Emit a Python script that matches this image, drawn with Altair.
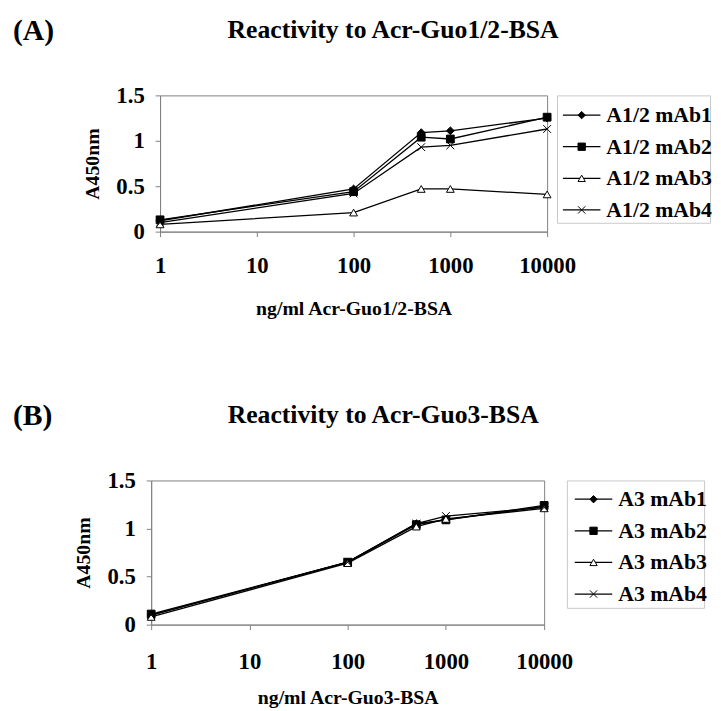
import altair as alt
import pandas as pd

FONT = "Liberation Serif"

# concentrations (ng/ml)
conc = [1, 100, 500, 1000, 10000]
x_ticks = [1, 10, 100, 1000, 10000]
y_ticks = [0, 0.5, 1, 1.5]

# Panel A
series_a = ["A1/2 mAb1", "A1/2 mAb2", "A1/2 mAb3", "A1/2 mAb4"]
a_mab1 = [0.12, 0.47, 1.09, 1.11, 1.25]
a_mab2 = [0.13, 0.44, 1.04, 1.02, 1.26]
a_mab3 = [0.08, 0.21, 0.47, 0.47, 0.41]
a_mab4 = [0.10, 0.42, 0.93, 0.95, 1.13]

# Panel B
series_b = ["A3 mAb1", "A3 mAb2", "A3 mAb3", "A3 mAb4"]
b_mab1 = [0.10, 0.65, 1.05, 1.09, 1.23]
b_mab2 = [0.11, 0.65, 1.04, 1.09, 1.24]
b_mab3 = [0.08, 0.64, 1.02, 1.10, 1.21]
b_mab4 = [0.10, 0.65, 1.05, 1.13, 1.22]

titles = ["Reactivity to Acr-Guo1/2-BSA", "Reactivity to Acr-Guo3-BSA"]
letters = ["(A)", "(B)"]
x_titles = ["ng/ml Acr-Guo1/2-BSA", "ng/ml Acr-Guo3-BSA"]

shapes = ["diamond", "square", "triangle-up", "M-1,-1L1,1M-1,1L1,-1"]
fills = ["black", "black", "white", "black"]


def long_df(series, values):
    rows = []
    for s, vals in zip(series, values):
        for c, v in zip(conc, vals):
            rows.append({"series": s, "conc": c, "A450": v})
    return pd.DataFrame(rows)


def panel(df, series, title, letter, xtitle, w, h, letter_x, title_x,
          leg_w, leg_h, leg_x0, leg_rows, gap, xlab_pad, xtitle_pad, lead):
    shape_scale = alt.Scale(domain=series, range=shapes)
    fill_scale = alt.Scale(domain=series, range=fills)
    x = alt.X("conc:Q",
              scale=alt.Scale(type="log", domain=[1, 10000], nice=False),
              axis=alt.Axis(values=x_ticks, format="d", title=xtitle,
                            labelFontSize=23, titleFontSize=20,
                            labelPadding=xlab_pad, titlePadding=xtitle_pad,
                            tickSize=5, labelFlush=False, labelOverlap=False))
    y = alt.Y("A450:Q",
              scale=alt.Scale(domain=[0, 1.5], nice=False),
              axis=alt.Axis(values=y_ticks, labelExpr="toString(datum.value)",
                            title="A450nm", labelFontSize=23, titleFontSize=20,
                            labelPadding=11, titlePadding=14, tickSize=5))
    base = alt.Chart(df)
    lines = base.mark_line(color="black", strokeWidth=1.3).encode(
        x=x, y=y, detail="series:N")
    pts = base.mark_point(filled=True, stroke="black", strokeWidth=1,
                          opacity=1, size=62).encode(
        x=x, y=y,
        shape=alt.Shape("series:N", scale=shape_scale, legend=None),
        fill=alt.Fill("series:N", scale=fill_scale, legend=None))
    lab = alt.Chart(pd.DataFrame({"t": [letter]})).mark_text(
        font=FONT, fontSize=30, fontWeight="bold", align="left",
        baseline="middle", color="black").encode(
        x=alt.value(letter_x), y=alt.value(-65), text="t:N")
    ttl = alt.Chart(pd.DataFrame({"t": [title]})).mark_text(
        font=FONT, fontSize=26, fontWeight="bold", align="center",
        baseline="middle", color="black").encode(
        x=alt.value(title_x), y=alt.value(-66), text="t:N")
    plot = alt.layer(lines, pts, lab, ttl).properties(
        width=w, height=h,
        view=alt.ViewBackground(stroke="#808080", strokeWidth=1))

    ldf = pd.DataFrame({"series": series, "row": list(range(len(series)))})
    ly = alt.Y("row:Q",
               scale=alt.Scale(domain=[0, len(series) - 1], range=leg_rows,
                               nice=False, zero=False),
               axis=None)
    lbase = alt.Chart(ldf)
    lrule = lbase.mark_rule(color="black", strokeWidth=1.3).encode(
        x=alt.value(leg_x0), x2=alt.value(leg_x0 + 38), y=ly)
    lpt = lbase.mark_point(filled=True, stroke="black", strokeWidth=1,
                           opacity=1, size=55).encode(
        x=alt.value(leg_x0 + 19), y=ly,
        shape=alt.Shape("series:N", scale=shape_scale, legend=None),
        fill=alt.Fill("series:N", scale=fill_scale, legend=None))
    ltxt = lbase.mark_text(font=FONT, fontSize=22, fontWeight="bold",
                           align="left", baseline="middle",
                           color="black").encode(
        x=alt.value(leg_x0 + 44), y=ly, text="series:N")
    legend = alt.layer(lrule, lpt, ltxt).properties(
        width=leg_w, height=leg_h,
        view=alt.ViewBackground(stroke="#c8c8c8", strokeWidth=1))

    inner = alt.hconcat(plot, legend, spacing=gap, bounds="flush").resolve_scale(
        x="independent", y="independent")
    if lead > 0:
        spacer = alt.Chart(pd.DataFrame({"t": [""]})).mark_text().encode(
            x=alt.value(0), y=alt.value(0), text="t:N").properties(
            width=lead, height=10,
            view=alt.ViewBackground(stroke="transparent"))
        return alt.hconcat(spacer, inner, spacing=0, bounds="flush").resolve_scale(
            x="independent", y="independent")
    return inner


df_a = long_df(series_a, [a_mab1, a_mab2, a_mab3, a_mab4])
df_b = long_df(series_b, [b_mab1, b_mab2, b_mab3, b_mab4])

panel_a = panel(df_a, series_a, titles[0], letters[0], x_titles[0],
                392, 138, -149, 236, 155, 129, 6, [20, 116], 10, 18, 22, 9)
panel_b = panel(df_b, series_b, titles[1], letters[1], x_titles[1],
                398, 146, -140, 235, 139, 129, 8, [19, 115], 23, 21, 15, 0)

chart = alt.vconcat(panel_a, panel_b, spacing=82).properties(
    padding={"left": 4, "top": 3, "right": 0, "bottom": 0},
    background="white",
).configure_axis(
    labelFont=FONT, titleFont=FONT, labelFontWeight="bold",
    titleFontWeight="bold", labelColor="black", titleColor="black",
    domainColor="#808080", tickColor="#808080", grid=False,
)

chart.save("out.html", embed_options={"renderer": "svg", "actions": False})
